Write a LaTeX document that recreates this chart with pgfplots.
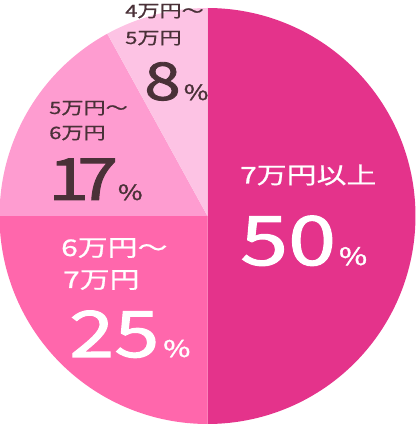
\documentclass[border=0pt]{standalone}
\usepackage{pgfplots}
\pgfplotsset{compat=1.18}
\usepgfplotslibrary{polar}
\usepackage{fontspec}
\setmainfont{Noto Sans CJK JP}[FakeStretch=1.3, FakeBold=0.8]
\newfontfamily\nm{Noto Sans CJK JP}[FakeStretch=1.27, FakeBold=1.6]
\definecolor{cA}{HTML}{E4338B}
\definecolor{cB}{HTML}{FF67AC}
\definecolor{cC}{HTML}{FE9CD0}
\definecolor{cD}{HTML}{FDC3E4}
\definecolor{tx}{HTML}{4A3138}
% shares (percent): 50, 25, 17, 8 -> angles clockwise from the top
% 50%: 90 to -90 ; 25%: -90 to -180 ; 17%: -180 to -241.2 ; 8%: -241.2 to -270
\newcommand{\fs}[1]{\fontsize{#1}{#1}\selectfont}
\begin{document}
\begin{tikzpicture}
\useasboundingbox (0pt,0pt) rectangle (415pt,425pt);
\begin{polaraxis}[
  at={(207.5pt,209pt)}, anchor=center,
  width=416pt, height=416pt, scale only axis,
  hide axis, ymin=0, ymax=1, clip=false]
\addplot[draw=none, fill=cA, domain=-90:90, samples=120] {1} -- (axis cs:0,0) -- cycle;
\addplot[draw=none, fill=cB, domain=-180:-90, samples=80] {1} -- (axis cs:0,0) -- cycle;
\addplot[draw=none, fill=cC, domain=-241.2:-180, samples=60] {1} -- (axis cs:0,0) -- cycle;
\addplot[draw=none, fill=cD, domain=-270:-241.2, samples=40] {1} -- (axis cs:0,0) -- cycle;
\end{polaraxis}
% 50%
\node[anchor=base west, inner sep=0, text=white] at (240pt,241.5pt) {\fs{23}7万円以上};
\node[anchor=base west, inner sep=0, text=white] at (240pt,160pt) {\nm\fs{68}50\hspace{3pt}\fs{24}\%};
% 25%
\node[anchor=base west, inner sep=0, text=white] at (61pt,169pt) {\fs{23}6万円～};
\node[anchor=base west, inner sep=0, text=white] at (63pt,137pt) {\fs{23}7万円};
\node[anchor=base west, inner sep=0, text=white] at (69pt,68pt) {\nm\fs{64}25\hspace{4pt}\fs{23}\%};
% 17%
\node[anchor=base west, inner sep=0, text=tx] at (49pt,311pt) {\fs{17}5万円～};
\node[anchor=base west, inner sep=0, text=tx] at (49pt,286pt) {\fs{17}6万円};
\node[anchor=base west, inner sep=0, text=tx] at (48pt,225pt) {\nm\fs{58}1\kern-12pt 7\hspace{0pt}\fs{21}\%};
% 8%
\node[anchor=base west, inner sep=0, text=tx] at (125pt,408pt) {\fs{17}4万円～};
\node[anchor=base west, inner sep=0, text=tx] at (125pt,381pt) {\fs{17}5万円};
\node[anchor=base west, inner sep=0, text=tx] at (144pt,325pt) {\nm\fs{52}8\hspace{3pt}\fs{21}\%};
\end{tikzpicture}
\end{document}
